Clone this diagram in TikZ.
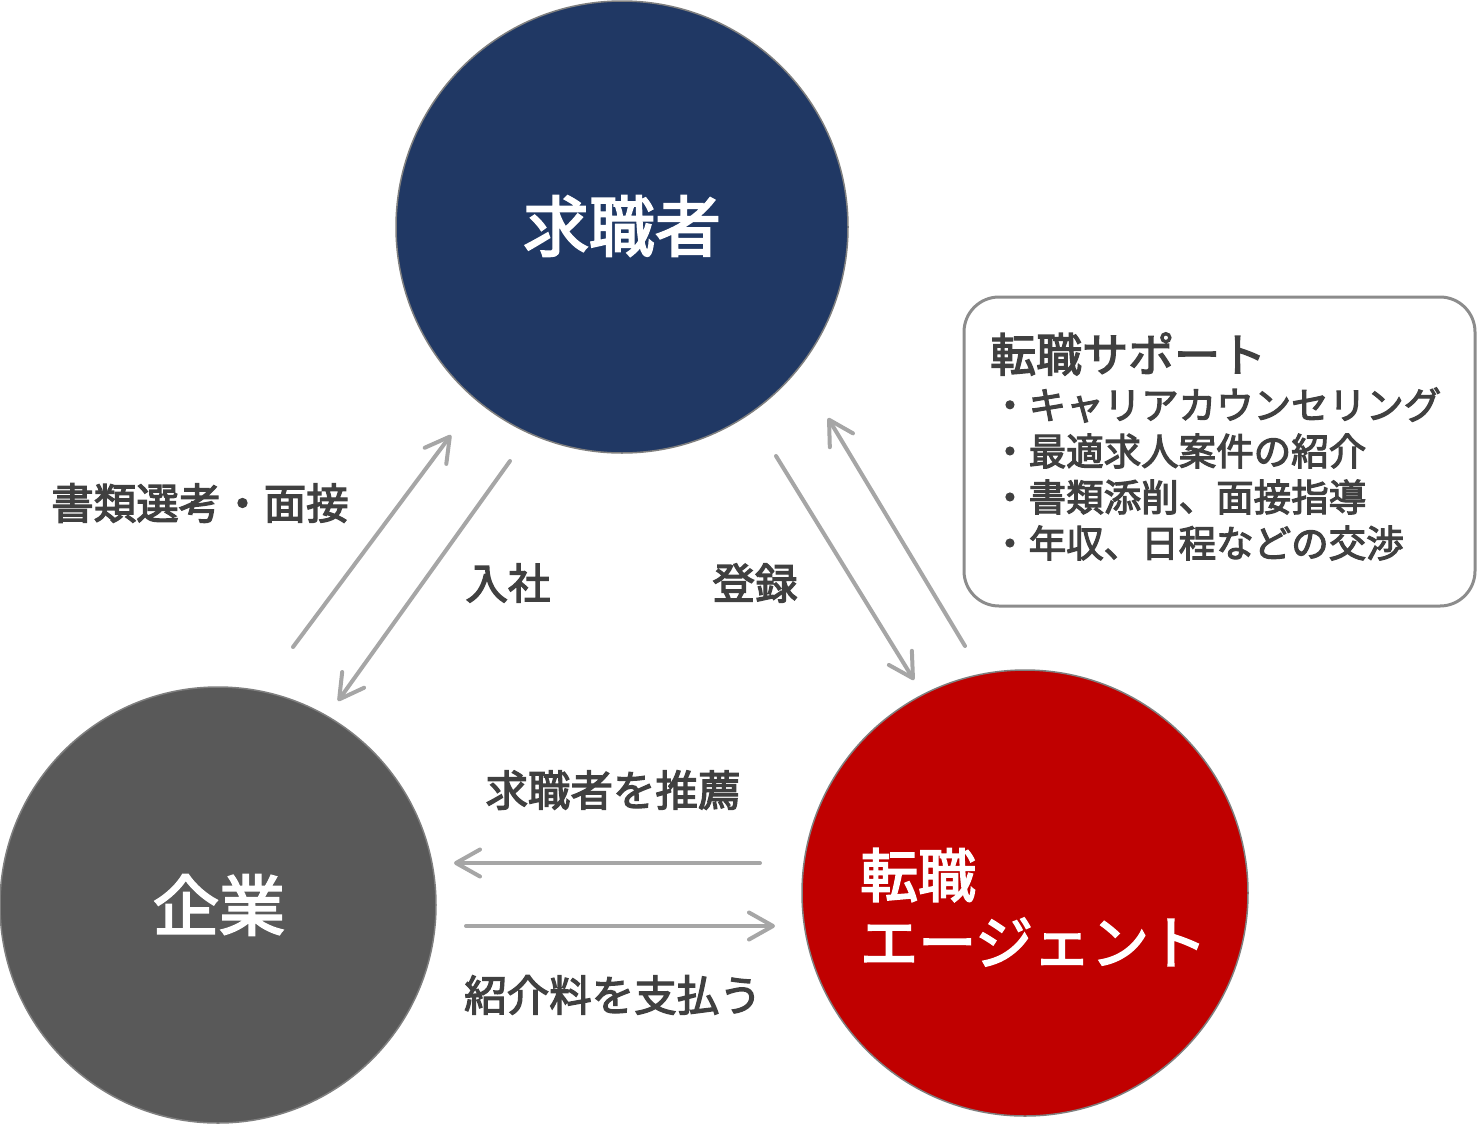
\documentclass[tikz,border=0pt]{standalone}
\usepackage{fontspec}
\setmainfont{Noto Sans CJK JP}
\newfontfamily\medfont[FakeBold=3]{Noto Sans CJK JP}
\usetikzlibrary{arrows.meta}
\definecolor{navy}{HTML}{203864}
\definecolor{corpgray}{HTML}{595959}
\definecolor{agentred}{HTML}{C00000}
\definecolor{arrowgray}{HTML}{A6A6A6}
\definecolor{textgray}{HTML}{404040}
\definecolor{boxgray}{HTML}{8C8C8C}
\definecolor{rimgray}{HTML}{7F7F7F}
\begin{document}
\begin{tikzpicture}[x=1pt,y=-1pt,
  party/.style={circle, draw=rimgray, line width=1.5pt, inner sep=0pt},
  bigtext/.style={text=white, font=\medfont\fontsize{66}{72}\selectfont, inner sep=0pt},
  agenttext/.style={text=white, font=\medfont\fontsize{58}{62}\selectfont, inner sep=0pt, anchor=west},
  lbl/.style={text=textgray, font=\medfont\fontsize{42.5}{46}\selectfont, inner sep=0pt},
  boxtitle/.style={text=textgray, font=\medfont\fontsize{46}{50}\selectfont, inner sep=0pt, anchor=west},
  boxitem/.style={text=textgray, font=\medfont\fontsize{37.5}{40}\selectfont, inner sep=0pt, anchor=west},
  flow/.style={draw=arrowgray, line width=4pt, line cap=round,
    -{Straight Barb[length=24pt,width=27pt,line width=4pt,round]}}
]
\useasboundingbox (0,0) rectangle (1478,1125);

% circles
\node[party, fill=navy, minimum size=452pt] (seeker) at (622,227) {};
\node[party, fill=corpgray, minimum size=436pt] (corp) at (218,905) {};
\node[party, fill=agentred, minimum size=446pt] (agent) at (1025,893) {};

\node[bigtext] (seekerlbl) at (622,226) {求職者};
\node[bigtext] (corplbl) at (219,905) {企業};
\node[agenttext] (agentlbl1) at (860,875) {転職};
\node[agenttext] (agentlbl2) at (860,942) {エージェント};

% support box
\node[draw=boxgray, line width=3pt, rounded corners=35pt, minimum width=511pt, minimum height=309pt, inner sep=0pt] (support) at (1219.5,451.5) {};
\node[boxtitle] (st) at (990,354) {転職サポート};
\node[boxitem] (s1) at (991,405) {・キャリアカウンセリング};
\node[boxitem] (s2) at (991,451) {・最適求人案件の紹介};
\node[boxitem] (s3) at (991,497) {・書類添削、面接指導};
\node[boxitem] (s4) at (991,543) {・年収、日程などの交渉};

% arrow end points
\coordinate (a1s) at (293,647);
\coordinate (a1e) at (451,435);
\coordinate (a2s) at (510,461);
\coordinate (a2e) at (338,701);
\coordinate (a3s) at (776,456);
\coordinate (a3e) at (914,680);
\coordinate (a4s) at (965,646);
\coordinate (a4e) at (828,418);
\coordinate (a5s) at (760,863);
\coordinate (a5e) at (454,863);
\coordinate (a6s) at (466,926);
\coordinate (a6e) at (775,926);

\draw[flow] (a1s) -- (a1e);
\draw[flow] (a2s) -- (a2e);
\draw[flow] (a3s) -- (a3e);
\draw[flow] (a4s) -- (a4e);
\draw[flow] (a5s) -- (a5e);
\draw[flow] (a6s) -- (a6e);

% labels
\node[lbl] (l1) at (200,503) {書類選考・面接};
\node[lbl] (l2) at (508,583) {入社};
\node[lbl] (l3) at (755,583) {登録};
\node[lbl] (l4) at (613,790) {求職者を推薦};
\node[lbl] (l5) at (613,995) {紹介料を支払う};
\end{tikzpicture}
\end{document}
